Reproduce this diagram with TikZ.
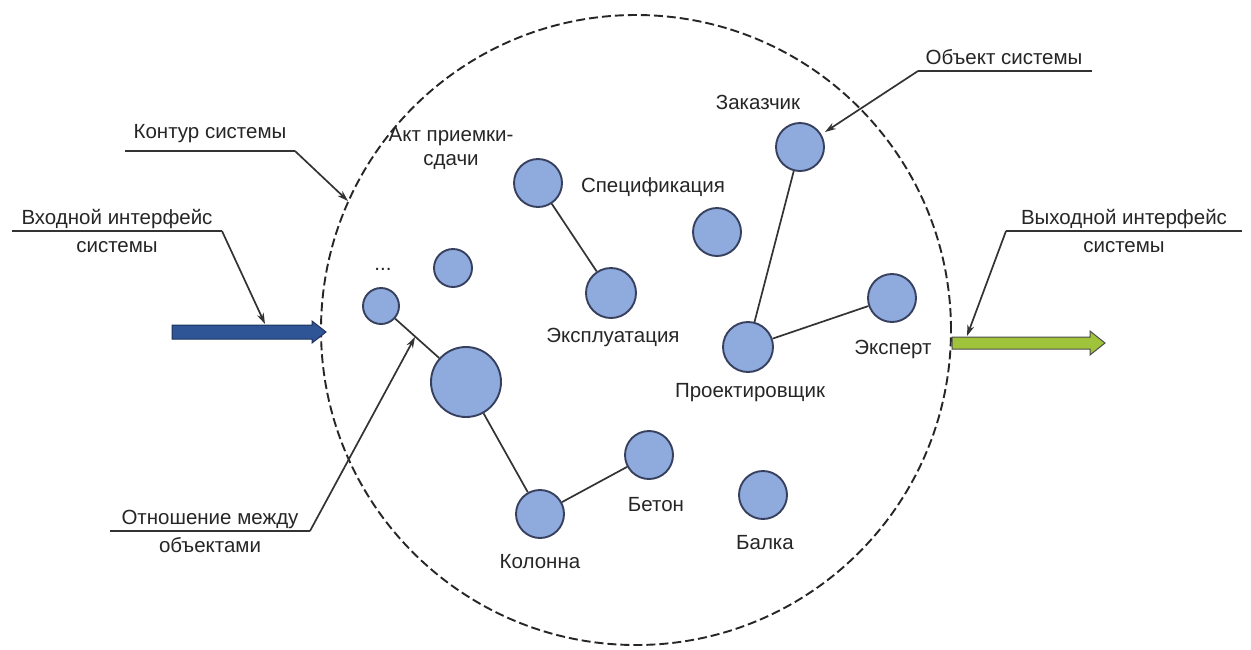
\documentclass[tikz,border=0pt]{standalone}
\usepackage{fontspec}
\setmainfont{Liberation Sans}
\usetikzlibrary{arrows.meta}
\definecolor{objfill}{RGB}{143,170,220}
\definecolor{objdraw}{RGB}{55,65,95}
\definecolor{inblue}{RGB}{47,85,151}
\definecolor{outgreen}{RGB}{160,195,60}
\tikzset{
  obj/.style={circle, draw=objdraw, fill=objfill, line width=1.9pt, inner sep=0pt},
  lbl/.style={font=\fontsize{20.5}{24}\selectfont, text=black!85, inner sep=0pt, align=center},
  rel/.style={line width=1.7pt, draw=black!80},
  callout/.style={line width=1.7pt, draw=black!80, -{Stealth[length=11pt,width=7pt]}},
  contour/.style={draw=black!85, line width=1.9pt, dash pattern=on 9pt off 4pt}
}
\begin{document}
\begin{tikzpicture}[x=1pt,y=-1pt]
\useasboundingbox (0,0) rectangle (1251,649);
\fill[white] (0,0) rectangle (1251,649);
% system contour
\node[contour, circle, minimum size=630pt, inner sep=0pt] (sys) at (636,330) {};
% objects
\node[obj, minimum size=48pt] (zak) at (800,147) {};
\node[obj, minimum size=48pt] (akt) at (538,183) {};
\node[obj, minimum size=48pt] (spec) at (717,232) {};
\node[obj, minimum size=38pt] (sm) at (453,268) {};
\node[obj, minimum size=36pt] (dots) at (381,306) {};
\node[obj, minimum size=50pt] (expl) at (611,293) {};
\node[obj, minimum size=70pt] (big) at (466,382) {};
\node[obj, minimum size=50pt] (proj) at (748,347) {};
\node[obj, minimum size=48pt] (exp) at (892,298) {};
\node[obj, minimum size=48pt] (bet) at (649,455) {};
\node[obj, minimum size=48pt] (kol) at (540,514) {};
\node[obj, minimum size=48pt] (bal) at (763,495) {};
% relations
\draw[rel] (akt) -- (expl);
\draw[rel] (zak) -- (proj);
\draw[rel] (proj) -- (exp);
\draw[rel] (dots) -- (big);
\draw[rel] (big) -- (kol);
\draw[rel] (kol) -- (bet);
% labels
\node[lbl] (tzak) at (758,102) {Заказчик};
\node[lbl] (takt) at (451,148) {Акт приемки-\\сдачи};
\node[lbl] (tspec) at (653,187) {Спецификация};
\node[lbl] (tdots) at (383,269) {...};
\node[lbl] (texpl) at (613,337) {Эксплуатация};
\node[lbl] (tproj) at (750,393) {Проектировщик};
\node[lbl] (texp) at (893,349) {Эксперт};
\node[lbl] (tbet) at (656,505) {Бетон};
\node[lbl] (tkol) at (540,562) {Колонна};
\node[lbl] (tbal) at (765,543) {Балка};
% input / output arrows
\fill[inblue, draw=inblue!60!black, line width=1pt]
  (172,325) -- (312,325) -- (312,321) -- (326,332) -- (312,343) -- (312,339) -- (172,339) -- cycle;
\fill[outgreen, draw=black!70, line width=1pt]
  (952,337) -- (1090,337) -- (1090,331) -- (1105,343) -- (1090,355) -- (1090,349) -- (952,349) -- cycle;
\coordinate (inarr) at (265,324);
\coordinate (outarr) at (967,336);
% callouts
\node[lbl] (ckont) at (210,134) {Контур системы};
\coordinate (ckontA) at (125,151);
\coordinate (ckontB) at (295,151);
\coordinate (ckontT) at (348,201);
\draw[rel] (ckontA) -- (ckontB);
\draw[callout] (ckontB) -- (ckontT);

\node[lbl] (cin) at (117,231) {Входной интерфейс\\[4pt]системы};
\coordinate (cinA) at (12,231);
\coordinate (cinB) at (222,231);
\draw[rel] (cinA) -- (cinB);
\draw[callout] (cinB) -- (inarr);

\node[lbl] (cobj) at (1004,57) {Объект системы};
\coordinate (cobjA) at (1092,71);
\coordinate (cobjB) at (918,71);
\coordinate (cobjT) at (825,132);
\draw[rel] (cobjA) -- (cobjB);
\draw[callout] (cobjB) -- (cobjT);

\node[lbl] (cout) at (1124,231) {Выходной интерфейс\\[4pt]системы};
\coordinate (coutA) at (1242,231);
\coordinate (coutB) at (1006,231);
\draw[rel] (coutA) -- (coutB);
\draw[callout] (coutB) -- (outarr);

\node[lbl] (crel) at (210,531) {Отношение между\\[4pt]объектами};
\coordinate (crelA) at (110,531);
\coordinate (crelB) at (310,531);
\coordinate (crelT) at (415,337);
\draw[rel] (crelA) -- (crelB);
\draw[callout] (crelB) -- (crelT);
\end{tikzpicture}
\end{document}
